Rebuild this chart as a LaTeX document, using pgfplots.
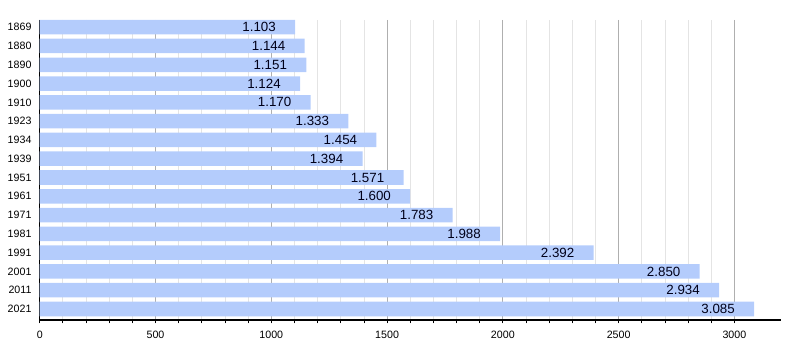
\documentclass[border=0pt]{standalone}
\usepackage{pgfplots}
\pgfplotsset{compat=1.18}
\usepackage{pgfplotstable}
\usepackage{fontspec}
\setmainfont{Liberation Sans}
\definecolor{barblue}{RGB}{180,204,252}
\definecolor{majgrid}{RGB}{175,175,175}
\definecolor{mingrid}{RGB}{228,228,228}
\pgfplotstableread{
idx value label
0 1103 1.103
1 1144 1.144
2 1151 1.151
3 1124 1.124
4 1170 1.170
5 1333 1.333
6 1454 1.454
7 1394 1.394
8 1571 1.571
9 1600 1.600
10 1783 1.783
11 1988 1.988
12 2392 2.392
13 2850 2.850
14 2934 2.934
15 3085 3.085
}\datatable
\begin{document}
\begin{tikzpicture}
\useasboundingbox (0,0) rectangle (600pt,270pt);
\begin{axis}[
  at={(29.8pt,30pt)}, anchor=south west,
  scale only axis, width=555.75pt, height=225pt,
  xmin=0, xmax=3200,
  ymin=-0.383, ymax=15.585, y dir=reverse,
  axis x line*=bottom, axis y line*=left,
  axis line style={black, line width=0.8pt, -},
  xtick={0,500,...,3000},
  minor x tick num=4,
  ytick={0,...,15},
  yticklabels={1869,1880,1890,1900,1910,1923,1934,1939,1951,1961,1971,1981,1991,2001,2011,2021},
  tick align=outside,
  major tick length=2.5pt, minor tick length=2.5pt,
  xtick style={black, line width=0.6pt},
  minor x tick style={black, line width=0.6pt},
  ytick style={draw=none},
  xmajorgrids, xminorgrids,
  major grid style={majgrid, line width=0.6pt},
  minor grid style={mingrid, line width=0.6pt},
  ymajorgrids=false,
  tick label style={font=\fontsize{8}{9}\selectfont},
  /pgf/number format/1000 sep={},
  /pgf/number format/assume math mode=true,
  xticklabel style={yshift=-2pt},
  yticklabel style={inner sep=0pt, xshift=-3.5pt},
  clip=false,
]
\addplot[xbar, bar width=10.9pt, fill=barblue, draw=none,
  nodes near coords, point meta=explicit symbolic,
  nodes near coords style={anchor=east, xshift=-14.3pt, font=\fontsize{10}{12}\selectfont, text=black!90!blue, inner sep=0pt},
] table[x=value, y=idx, meta=label] {\datatable};
\end{axis}
\end{tikzpicture}
\end{document}
